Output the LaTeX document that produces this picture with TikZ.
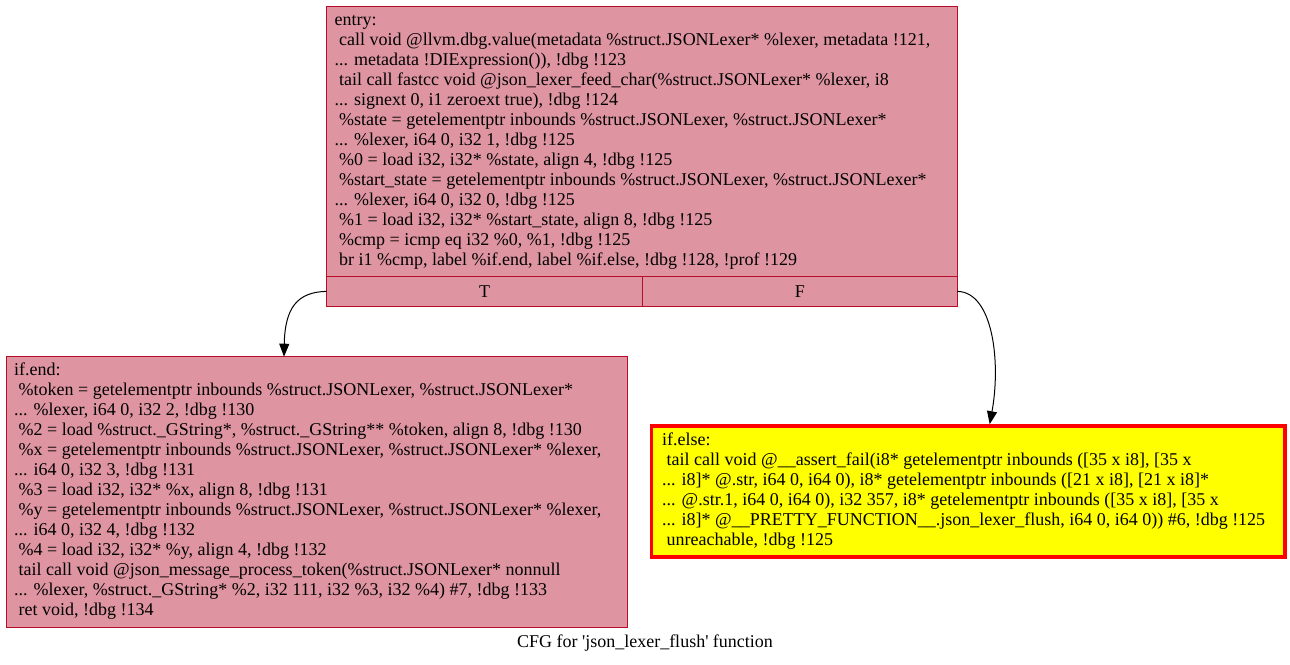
\documentclass[tikz,border=0pt]{standalone}
\usepackage{fontspec}
\setmainfont{Liberation Serif}
\usetikzlibrary{arrows.meta}
\definecolor{CFGred}{HTML}{B70D28}
\definecolor{CFGpink}{HTML}{DF95A1}
\definecolor{HotYellow}{HTML}{FFFF00}
\definecolor{HotRed}{HTML}{FF0000}
\newcommand{\cfgfont}{\fontsize{18}{20}\selectfont}
\newcommand{\ind}{\hspace*{0.25em}}

\begin{document}
\begin{tikzpicture}[x=1pt, y=-1pt,
        block/.style={rectangle, draw=CFGred, fill=CFGpink, line width=0.9pt, inner sep=0pt, outer sep=0pt, anchor=north west},
        hot/.style={rectangle, draw=HotRed, fill=HotYellow, line width=3.5pt, inner sep=0pt, outer sep=0pt, anchor=north west},
        port/.style={rectangle, draw=CFGred, line width=0.9pt, inner sep=0pt, outer sep=0pt, anchor=north west, font=\cfgfont},
        code/.style={inner sep=0pt, anchor=north west, font=\cfgfont},
        flow/.style={-{Triangle[length=13pt,width=10pt]}, line width=1pt, black}
    ]
        \useasboundingbox (0,0) rectangle (1290,664);

        % Basic blocks
        \node[block, minimum width=630.6pt, minimum height=300.2pt] (entry) at (326.7,6.5) {};
        \node[port, minimum width=315.6pt, minimum height=30.7pt] (Tport) at (326.7,276) {T};
        \node[port, minimum width=315pt, minimum height=30.7pt] (Fport) at (642.3,276) {F};
        \node[block, minimum width=620.8pt, minimum height=270.3pt] (ifend) at (6.5,356.7) {};
        \node[hot, minimum width=633.3pt, minimum height=131pt] (ifelse) at (651.7,426) {};

        % Block contents
        \node[code] (entrytxt) at (334.5,11.5) {\begin{tabular}{@{}l@{}}
            entry:\\
            \ind call void @llvm.dbg.value(metadata \%struct.JSONLexer* \%lexer, metadata !121,\\
            ... metadata !DIExpression()), !dbg !123\\
            \ind tail call fastcc void @json\_lexer\_feed\_char(\%struct.JSONLexer* \%lexer, i8\\
            ... signext 0, i1 zeroext true), !dbg !124\\
            \ind \%state = getelementptr inbounds \%struct.JSONLexer, \%struct.JSONLexer*\\
            ... \%lexer, i64 0, i32 1, !dbg !125\\
            \ind \%0 = load i32, i32* \%state, align 4, !dbg !125\\
            \ind \%start\_state = getelementptr inbounds \%struct.JSONLexer, \%struct.JSONLexer*\\
            ... \%lexer, i64 0, i32 0, !dbg !125\\
            \ind \%1 = load i32, i32* \%start\_state, align 8, !dbg !125\\
            \ind \%cmp = icmp eq i32 \%0, \%1, !dbg !125\\
            \ind br i1 \%cmp, label \%if.end, label \%if.else, !dbg !128, !prof !129
        \end{tabular}};
        \node[code] (ifendtxt) at (14,361.5) {\begin{tabular}{@{}l@{}}
            if.end:\\
            \ind \%token = getelementptr inbounds \%struct.JSONLexer, \%struct.JSONLexer*\\
            ... \%lexer, i64 0, i32 2, !dbg !130\\
            \ind \%2 = load \%struct.\_GString*, \%struct.\_GString** \%token, align 8, !dbg !130\\
            \ind \%x = getelementptr inbounds \%struct.JSONLexer, \%struct.JSONLexer* \%lexer,\\
            ... i64 0, i32 3, !dbg !131\\
            \ind \%3 = load i32, i32* \%x, align 8, !dbg !131\\
            \ind \%y = getelementptr inbounds \%struct.JSONLexer, \%struct.JSONLexer* \%lexer,\\
            ... i64 0, i32 4, !dbg !132\\
            \ind \%4 = load i32, i32* \%y, align 4, !dbg !132\\
            \ind tail call void @json\_message\_process\_token(\%struct.JSONLexer* nonnull\\
            ... \%lexer, \%struct.\_GString* \%2, i32 111, i32 \%3, i32 \%4) \#7, !dbg !133\\
            \ind ret void, !dbg !134
        \end{tabular}};
        \node[code] (ifelsetxt) at (662,431) {\begin{tabular}{@{}l@{}}
            if.else:\\
            \ind tail call void @\_\_assert\_fail(i8* getelementptr inbounds ([35 x i8], [35 x\\
            ... i8]* @.str, i64 0, i64 0), i8* getelementptr inbounds ([21 x i8], [21 x i8]*\\
            ... @.str.1, i64 0, i64 0), i32 357, i8* getelementptr inbounds ([35 x i8], [35 x\\
            ... i8]* @\_\_PRETTY\_FUNCTION\_\_.json\_lexer\_flush, i64 0, i64 0)) \#6, !dbg !125\\
            \ind unreachable, !dbg !125
        \end{tabular}};

        % Branch edges
        \draw[flow] (Tport.west) .. controls (297,292) and (285,308) .. ([xshift=277.5pt]ifend.north west);
        \draw[flow] (Fport.east) .. controls (993,292) and (1001,362) .. ([xshift=338pt,yshift=1.8pt]ifelse.north west);

        % Caption
        \node[font=\cfgfont, anchor=base] (caption) at (645,647) {CFG for \textquotesingle json\_lexer\_flush\textquotesingle\ function};
    \end{tikzpicture}
\end{document}
